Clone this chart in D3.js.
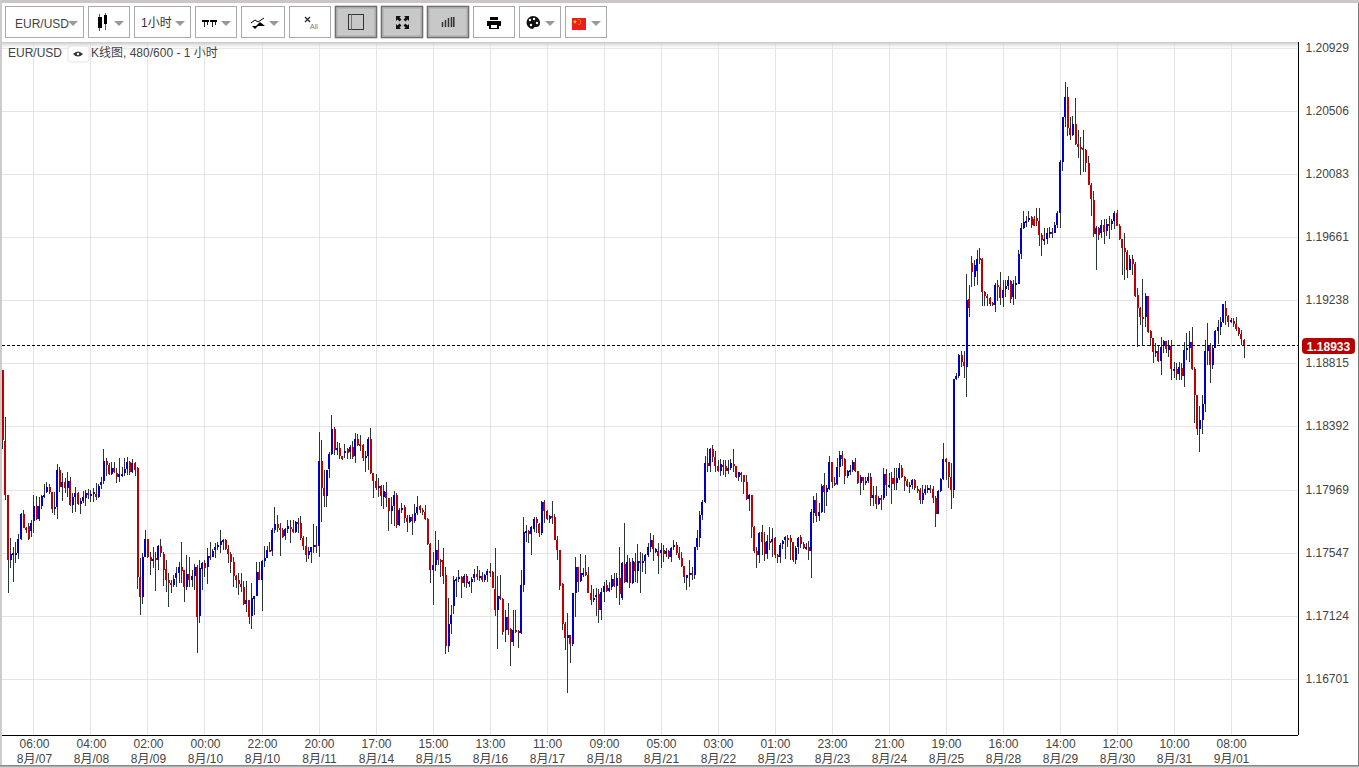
<!DOCTYPE html>
<html><head><meta charset="utf-8">
<script src="https://cdn.jsdelivr.net/npm/d3@7"></script>
<style>
html,body{margin:0;padding:0;background:#fff;overflow:hidden}
svg{display:block}
text{font-family:"Liberation Sans",Arial,"Noto Sans CJK SC",sans-serif;font-size:12px;fill:#444}
</style></head><body>
<svg id="c" width="1359" height="768"></svg>
<script>
const opens=[1.18771,1.18295,1.17933,1.17497,1.17537,1.17542,1.17546,1.17638,1.17805,1.17714,1.17725,1.17691,1.17761,1.17859,1.17770,1.17859,1.17917,1.17953,1.17986,1.17953,
1.17841,1.17852,1.18100,1.17984,1.18020,1.17980,1.18027,1.17866,1.17919,1.17948,1.17872,1.17890,1.17917,1.17948,1.17928,1.17937,1.17940,1.17919,1.18000,1.18027,
1.18161,1.18132,1.18074,1.18116,1.18078,1.18054,1.18067,1.18078,1.18107,1.18154,1.18087,1.18147,1.18114,1.17383,1.17249,1.17519,1.17638,1.17519,1.17490,1.17510,
1.17495,1.17591,1.17537,1.17434,1.17363,1.17341,1.17329,1.17374,1.17412,1.17450,1.17430,1.17318,1.17403,1.17363,1.17390,1.17450,1.17117,1.17437,1.17477,1.17450,
1.17524,1.17517,1.17564,1.17580,1.17598,1.17624,1.17631,1.17569,1.17537,1.17484,1.17390,1.17363,1.17336,1.17314,1.17202,1.17229,1.17117,1.17236,1.17256,1.17416,
1.17363,1.17490,1.17510,1.17564,1.17557,1.17698,1.17738,1.17712,1.17698,1.17658,1.17705,1.17718,1.17705,1.17685,1.17752,1.17745,1.17645,1.17591,1.17531,1.17551,
1.17584,1.17598,1.17591,1.18161,1.17980,1.17926,1.18107,1.18208,1.18375,1.18235,1.18248,
1.18195,1.18217,1.18241,1.18221,1.18255,1.18195,1.18308,1.18273,1.18268,1.18181,1.18195,1.18308,1.18081,1.18027,1.17980,1.17993,1.17920,1.17953,1.17913,1.17826,
1.17859,1.17933,1.17732,1.17832,1.17853,1.17779,1.17752,1.17785,1.17759,1.17812,1.17859,1.17832,1.17819,1.17772,1.17605,1.17430,1.17464,1.17564,1.17497,1.17497,
1.17397,1.16921,1.17068,1.17189,1.17363,1.17370,1.17383,1.17343,1.17390,1.17336,1.17350,1.17377,1.17403,1.17383,1.17390,1.17363,1.17397,1.17423,1.17417,1.17303,
1.17162,1.17256,1.17236,1.17028,1.17115,1.17035,1.16947,1.17028,1.17021,1.17008,1.17330,1.17678,1.17692,1.17672,1.17705,1.17772,1.17739,1.17678,1.17886,1.17826,
1.17772,1.17792,1.17785,1.17631,1.17564,1.17336,1.17068,1.16974,1.16994,1.16934,1.17276,1.17450,1.17356,1.17397,1.17417,1.17397,1.17276,1.17229,1.17249,1.17269,
1.17162,1.17283,1.17330,1.17289,1.17316,1.17370,1.17323,1.17377,1.17242,1.17470,1.17350,1.17484,1.17343,1.17484,1.17423,1.17491,1.17477,1.17491,1.17531,1.17584,
1.17631,1.17551,1.17558,1.17544,1.17564,1.17537,1.17558,1.17517,1.17584,1.17598,1.17544,
1.17511,1.17458,1.17377,1.17397,1.17411,1.17397,1.17585,1.17645,1.17800,1.17887,1.18148,1.18128,1.18242,1.18188,1.18128,1.18095,1.18135,1.18128,1.18095,1.18115,
1.18142,1.18128,1.18054,1.18081,1.18068,1.18021,1.17907,1.17934,1.17719,1.17558,1.17531,1.17686,1.17619,1.17538,1.17625,1.17619,1.17645,1.17531,1.17518,1.17605,
1.17632,1.17645,1.17645,1.17619,1.17498,1.17585,1.17652,1.17605,1.17578,1.17585,1.17558,1.17813,1.17900,1.17793,1.17820,1.18001,1.17954,1.17974,1.18155,1.18014,
1.18007,1.18121,1.18202,1.18175,1.18061,1.18088,1.18101,1.18155,1.18095,1.18014,1.18054,1.18014,1.18028,1.18054,1.17914,1.17934,1.17873,1.17914,1.17914,1.18075,
1.17987,1.18048,1.18048,1.18014,1.18048,1.18115,1.18054,1.18028,1.17987,1.18001,1.18034,1.17974,1.17967,1.17900,1.17947,1.17974,1.17981,1.17974,1.17914,1.17806,
1.17961,1.18041,1.18175,1.18155,1.18054,1.17967,1.18711,1.18732,1.18872,1.18825,
1.18794,1.19248,1.19489,1.19395,1.19435,1.19523,1.19516,1.19295,1.19268,1.19254,1.19221,1.19207,1.19341,1.19328,1.19254,1.19315,1.19335,1.19370,1.19261,1.19341,
1.19348,1.19549,1.19724,1.19757,1.19777,1.19797,1.19784,1.19791,1.19771,1.19677,1.19643,1.19650,1.19690,1.19697,1.19690,1.19744,1.19824,1.20166,1.20468,1.20602,
1.20394,1.20347,1.20421,1.20287,1.20267,1.20258,1.20247,1.20159,1.20012,1.19911,1.19683,1.19724,1.19690,1.19744,1.19703,1.19750,1.19750,1.19771,1.19824,1.19737,
1.19650,1.19590,1.19563,1.19442,1.19516,1.19482,1.19274,1.19187,1.19127,1.19127,1.19268,1.19033,1.18986,1.18888,1.18899,1.18832,1.18939,1.18966,1.18906,1.18932,
1.18767,1.18778,1.18745,1.18785,1.18731,1.18906,1.18919,1.18959,1.18778,1.18604,1.18376,1.18436,1.18544,1.18899,1.18932,1.18805,1.18919,1.19033,1.19060,1.19093,
1.19187,1.19134,1.19093,1.19100,1.19080,1.19053,1.19013,1.18973];
const highs=[1.18771,1.18458,1.17933,1.17647,1.17586,1.17620,1.17671,1.17814,1.17832,1.17721,1.17743,1.17765,1.17933,1.17926,1.17922,1.17933,1.18007,1.18020,1.18007,1.17953,
1.17955,1.18141,1.18118,1.18078,1.18045,1.18087,1.18056,1.17944,1.17989,1.17955,1.17910,1.17962,1.17966,1.17971,1.17966,1.17978,1.18016,1.18007,1.18056,1.18241,
1.18179,1.18150,1.18156,1.18156,1.18112,1.18181,1.18118,1.18179,1.18185,1.18163,1.18172,1.18156,1.18123,1.17508,1.17546,1.17698,1.17638,1.17553,1.17586,1.17553,
1.17598,1.17636,1.17553,1.17497,1.17412,1.17363,1.17396,1.17452,1.17486,1.17620,1.17430,1.17531,1.17519,1.17430,1.17470,1.17463,1.17497,1.17486,1.17497,1.17575,
1.17620,1.17569,1.17613,1.17620,1.17698,1.17638,1.17638,1.17598,1.17553,1.17519,1.17396,1.17408,1.17408,1.17356,1.17358,1.17229,1.17341,1.17256,1.17486,1.17486,
1.17497,1.17591,1.17591,1.17620,1.17709,1.17855,1.17799,1.17743,1.17709,1.17709,1.17765,1.17765,1.17765,1.17761,1.17776,1.17794,1.17658,1.17653,1.17586,1.17586,
1.17738,1.17725,1.18355,1.18302,1.18100,1.18100,1.18219,1.18469,1.18391,1.18290,1.18279,
1.18195,1.18275,1.18246,1.18268,1.18297,1.18351,1.18342,1.18335,1.18275,1.18228,1.18324,1.18384,1.18081,1.18074,1.18045,1.18000,1.18000,1.18020,1.17913,1.17922,
1.17962,1.17949,1.17844,1.17877,1.17866,1.17799,1.17799,1.17806,1.17873,1.17926,1.17866,1.17844,1.17866,1.17777,1.17609,1.17553,1.17694,1.17631,1.17502,1.17575,
1.17453,1.17240,1.17195,1.17390,1.17385,1.17430,1.17390,1.17403,1.17403,1.17359,1.17385,1.17435,1.17457,1.17430,1.17419,1.17403,1.17435,1.17475,1.17426,1.17575,
1.17390,1.17397,1.17240,1.17162,1.17207,1.17039,1.17162,1.17162,1.17028,1.17430,1.17788,1.17732,1.17698,1.17725,1.17788,1.17788,1.17743,1.17895,1.17900,1.17832,
1.17799,1.17895,1.17806,1.17658,1.17564,1.17341,1.17084,1.17140,1.16994,1.17278,1.17520,1.17452,1.17537,1.17441,1.17528,1.17452,1.17330,1.17300,1.17307,1.17300,
1.17307,1.17352,1.17363,1.17352,1.17397,1.17408,1.17408,1.17587,1.17486,1.17743,1.17531,1.17508,1.17508,1.17542,1.17604,1.17553,1.17546,1.17537,1.17609,1.17676,
1.17665,1.17575,1.17609,1.17609,1.17598,1.17575,1.17564,1.17587,1.17631,1.17620,1.17587,
1.17554,1.17458,1.17397,1.17498,1.17453,1.17587,1.17699,1.17826,1.17900,1.18197,1.18247,1.18247,1.18269,1.18231,1.18168,1.18173,1.18168,1.18168,1.18168,1.18173,
1.18240,1.18128,1.18090,1.18090,1.18068,1.18068,1.17940,1.17934,1.17726,1.17587,1.17688,1.17730,1.17688,1.17665,1.17721,1.17710,1.17650,1.17538,1.17610,1.17632,
1.17659,1.17665,1.17665,1.17619,1.17592,1.17650,1.17665,1.17621,1.17610,1.17627,1.17838,1.17929,1.17945,1.17878,1.18007,1.18079,1.18001,1.18195,1.18157,1.18057,
1.18180,1.18231,1.18231,1.18180,1.18101,1.18135,1.18168,1.18180,1.18095,1.18068,1.18057,1.18057,1.18079,1.18079,1.17990,1.17990,1.17927,1.17934,1.18113,1.18106,
1.18079,1.18090,1.18113,1.18113,1.18150,1.18135,1.18061,1.18039,1.18023,1.18039,1.18039,1.17990,1.17978,1.18001,1.18001,1.18001,1.18001,1.17990,1.17923,1.17967,
1.18045,1.18280,1.18180,1.18157,1.18146,1.18711,1.18749,1.18879,1.18895,1.18895,
1.19415,1.19341,1.19536,1.19509,1.19576,1.19592,1.19520,1.19301,1.19281,1.19259,1.19230,1.19353,1.19375,1.19429,1.19375,1.19375,1.19402,1.19375,1.19375,1.19402,
1.19576,1.19755,1.19835,1.19800,1.19840,1.19800,1.19804,1.19858,1.19858,1.19688,1.19724,1.19724,1.19728,1.19724,1.19766,1.19840,1.20180,1.20470,1.20703,1.20667,
1.20470,1.20475,1.20593,1.20381,1.20336,1.20381,1.20251,1.20206,1.20023,1.19972,1.19733,1.19728,1.19777,1.19782,1.19782,1.19800,1.19782,1.19840,1.19844,1.19750,
1.19650,1.19688,1.19576,1.19543,1.19543,1.19498,1.19319,1.19192,1.19379,1.19286,1.19268,1.19040,1.18988,1.18950,1.18939,1.18995,1.18973,1.18968,1.18973,1.18973,
1.18827,1.18816,1.18827,1.18816,1.18961,1.19022,1.19029,1.19062,1.18794,1.18604,1.18530,1.18604,1.18973,1.19084,1.18950,1.18939,1.19040,1.19107,1.19125,1.19214,
1.19234,1.19140,1.19118,1.19118,1.19125,1.19062,1.19040,1.18977];
const lows=[1.18243,1.17899,1.17273,1.17446,1.17352,1.17479,1.17506,1.17631,1.17709,1.17676,1.17631,1.17653,1.17680,1.17765,1.17756,1.17839,1.17910,1.17944,1.17940,1.17810,
1.17799,1.17774,1.17955,1.17895,1.17944,1.17922,1.17859,1.17810,1.17821,1.17866,1.17805,1.17877,1.17859,1.17906,1.17888,1.17884,1.17899,1.17913,1.17971,1.18007,
1.18060,1.18067,1.18067,1.18078,1.18016,1.18022,1.18051,1.18060,1.18067,1.18067,1.18078,1.18060,1.17305,1.17128,1.17204,1.17519,1.17508,1.17396,1.17441,1.17291,
1.17430,1.17519,1.17323,1.17285,1.17180,1.17278,1.17318,1.17318,1.17341,1.17345,1.17218,1.17296,1.17318,1.17318,1.17296,1.16876,1.17072,1.17296,1.17385,1.17336,
1.17497,1.17515,1.17508,1.17564,1.17542,1.17564,1.17564,1.17479,1.17408,1.17318,1.17307,1.17262,1.17285,1.17195,1.17151,1.17068,1.17032,1.17128,1.17256,1.17363,
1.17157,1.17452,1.17508,1.17551,1.17524,1.17676,1.17687,1.17524,1.17642,1.17631,1.17676,1.17609,1.17676,1.17676,1.17676,1.17631,1.17564,1.17486,1.17501,1.17479,
1.17542,1.17542,1.17519,1.17754,1.17855,1.17855,1.18045,1.18201,1.18201,1.18201,1.18172,
1.18168,1.18179,1.18172,1.18172,1.18172,1.18150,1.18262,1.18230,1.18161,1.18089,1.18101,1.18074,1.17915,1.17967,1.17922,1.17859,1.17837,1.17855,1.17694,1.17739,
1.17725,1.17712,1.17725,1.17810,1.17743,1.17687,1.17743,1.17665,1.17743,1.17799,1.17810,1.17799,1.17765,1.17598,1.17345,1.17195,1.17426,1.17464,1.17385,1.17336,
1.16867,1.16883,1.17001,1.17135,1.17251,1.17352,1.17240,1.17318,1.17307,1.17318,1.17278,1.17352,1.17363,1.17359,1.17352,1.17352,1.17352,1.17385,1.17307,1.17122,
1.16900,1.17229,1.16994,1.16950,1.16994,1.16789,1.16921,1.17005,1.16905,1.17001,1.17285,1.17620,1.17613,1.17531,1.17687,1.17676,1.17649,1.17665,1.17743,1.17765,
1.17743,1.17739,1.17631,1.17497,1.17296,1.17028,1.16894,1.16608,1.16804,1.16921,1.17117,1.17285,1.17352,1.17385,1.17390,1.17274,1.17195,1.17218,1.17122,1.17077,
1.17095,1.17218,1.17285,1.17285,1.17296,1.17318,1.17240,1.17195,1.17229,1.17345,1.17341,1.17307,1.17336,1.17352,1.17345,1.17278,1.17419,1.17401,1.17520,1.17553,
1.17491,1.17542,1.17403,1.17441,1.17486,1.17520,1.17502,1.17486,1.17564,1.17531,1.17497,
1.17449,1.17346,1.17297,1.17319,1.17364,1.17368,1.17565,1.17583,1.17766,1.17882,1.18090,1.18090,1.18157,1.18090,1.18090,1.18063,1.18068,1.18057,1.18075,1.18101,
1.18090,1.18045,1.18030,1.18023,1.17940,1.17900,1.17826,1.17643,1.17543,1.17446,1.17476,1.17531,1.17493,1.17502,1.17565,1.17520,1.17513,1.17476,1.17480,1.17569,
1.17502,1.17587,1.17498,1.17487,1.17471,1.17538,1.17576,1.17569,1.17565,1.17498,1.17379,1.17748,1.17753,1.17762,1.17815,1.17811,1.17860,1.17967,1.17978,1.17990,
1.18001,1.18057,1.18128,1.18007,1.18045,1.18068,1.18090,1.18090,1.18007,1.17934,1.17967,1.18001,1.18012,1.17862,1.17862,1.17838,1.17867,1.17833,1.17900,1.17929,
1.17978,1.17873,1.17967,1.17967,1.18034,1.18045,1.17963,1.17985,1.17949,1.17972,1.17967,1.17945,1.17873,1.17873,1.17934,1.17945,1.17945,1.17882,1.17721,1.17806,
1.17956,1.18034,1.18034,1.17983,1.17840,1.17916,1.18705,1.18716,1.18790,1.18720,
1.18593,1.19129,1.19330,1.19335,1.19341,1.19482,1.19201,1.19201,1.19201,1.19203,1.19201,1.19163,1.19236,1.19207,1.19192,1.19263,1.19308,1.19223,1.19207,1.19245,
1.19348,1.19518,1.19719,1.19728,1.19766,1.19726,1.19733,1.19733,1.19603,1.19536,1.19610,1.19616,1.19654,1.19654,1.19688,1.19721,1.19726,1.20108,1.20403,1.20340,
1.20314,1.20340,1.20278,1.20193,1.20079,1.20097,1.20097,1.20012,1.19806,1.19665,1.19442,1.19643,1.19654,1.19614,1.19666,1.19650,1.19710,1.19715,1.19733,1.19643,
1.19406,1.19375,1.19386,1.19442,1.19409,1.19263,1.18928,1.19073,1.18939,1.19062,1.19017,1.18932,1.18816,1.18861,1.18827,1.18738,1.18883,1.18883,1.18861,1.18705,
1.18716,1.18705,1.18705,1.18705,1.18660,1.18839,1.18827,1.18772,1.18418,1.18333,1.18224,1.18342,1.18488,1.18805,1.18682,1.18778,1.18917,1.18946,1.19006,1.19084,
1.19073,1.19062,1.19084,1.19062,1.19035,1.18996,1.18939,1.18854];
const closes=[1.18302,1.17933,1.17497,1.17537,1.17542,1.17546,1.17638,1.17805,1.17714,1.17698,1.17638,1.17743,1.17859,1.17770,1.17859,1.17926,1.17931,1.17986,1.17953,1.17841,
1.17852,1.18100,1.17984,1.18020,1.17980,1.18027,1.17866,1.17919,1.17944,1.17872,1.17890,1.17917,1.17948,1.17933,1.17937,1.17953,1.17919,1.17993,1.18020,1.18161,
1.18132,1.18074,1.18116,1.18087,1.18054,1.18074,1.18076,1.18107,1.18154,1.18087,1.18147,1.18100,1.17383,1.17249,1.17519,1.17638,1.17519,1.17490,1.17504,1.17497,
1.17591,1.17542,1.17430,1.17363,1.17345,1.17329,1.17370,1.17408,1.17450,1.17425,1.17316,1.17403,1.17363,1.17390,1.17450,1.17117,1.17441,1.17477,1.17443,1.17524,
1.17513,1.17560,1.17586,1.17595,1.17624,1.17631,1.17569,1.17537,1.17484,1.17390,1.17363,1.17336,1.17314,1.17202,1.17229,1.17117,1.17240,1.17256,1.17416,1.17363,
1.17490,1.17508,1.17562,1.17551,1.17698,1.17738,1.17712,1.17698,1.17651,1.17705,1.17725,1.17705,1.17685,1.17752,1.17738,1.17645,1.17591,1.17531,1.17557,1.17584,
1.17598,1.17584,1.18161,1.17980,1.17926,1.18100,1.18208,1.18375,1.18235,1.18248,1.18194,
1.18172,1.18228,1.18212,1.18255,1.18188,1.18308,1.18268,1.18264,1.18181,1.18195,1.18308,1.18081,1.18027,1.17980,1.17993,1.17926,1.17960,1.17913,1.17826,1.17859,
1.17933,1.17732,1.17832,1.17846,1.17779,1.17752,1.17785,1.17759,1.17812,1.17853,1.17832,1.17819,1.17772,1.17605,1.17430,1.17464,1.17564,1.17497,1.17484,1.17390,
1.16921,1.17068,1.17128,1.17363,1.17370,1.17383,1.17343,1.17390,1.17343,1.17350,1.17370,1.17403,1.17383,1.17390,1.17363,1.17397,1.17423,1.17417,1.17310,1.17162,
1.17256,1.17236,1.17014,1.17115,1.17028,1.16947,1.17028,1.17014,1.17008,1.17330,1.17685,1.17692,1.17672,1.17718,1.17772,1.17743,1.17678,1.17886,1.17826,1.17772,
1.17792,1.17779,1.17631,1.17564,1.17323,1.17068,1.16974,1.16994,1.16934,1.17276,1.17450,1.17350,1.17410,1.17410,1.17397,1.17276,1.17229,1.17242,1.17263,1.17162,
1.17283,1.17323,1.17289,1.17309,1.17370,1.17323,1.17377,1.17269,1.17477,1.17350,1.17484,1.17343,1.17491,1.17423,1.17491,1.17477,1.17491,1.17531,1.17584,1.17631,
1.17571,1.17571,1.17524,1.17564,1.17537,1.17558,1.17517,1.17578,1.17598,1.17544,1.17511,
1.17458,1.17384,1.17397,1.17411,1.17397,1.17585,1.17645,1.17800,1.17887,1.18148,1.18128,1.18242,1.18188,1.18128,1.18095,1.18142,1.18121,1.18095,1.18115,1.18148,
1.18128,1.18054,1.18088,1.18068,1.18021,1.17907,1.17934,1.17719,1.17558,1.17531,1.17679,1.17619,1.17538,1.17625,1.17612,1.17639,1.17531,1.17518,1.17598,1.17625,
1.17652,1.17632,1.17619,1.17498,1.17578,1.17645,1.17605,1.17578,1.17585,1.17558,1.17820,1.17900,1.17793,1.17820,1.17994,1.17954,1.17981,1.18155,1.18021,1.18001,
1.18121,1.18202,1.18175,1.18061,1.18095,1.18101,1.18155,1.18095,1.18014,1.18054,1.18028,1.18028,1.18054,1.17914,1.17934,1.17873,1.17914,1.17907,1.18075,1.18001,
1.18001,1.18007,1.18007,1.18048,1.18115,1.18054,1.18028,1.17994,1.18001,1.18034,1.17981,1.17961,1.17900,1.17947,1.17974,1.17981,1.17967,1.17914,1.17806,1.17961,
1.18041,1.18175,1.18155,1.18054,1.17967,1.18711,1.18732,1.18872,1.18825,1.18799,
1.19241,1.19187,1.19429,1.19476,1.19516,1.19509,1.19295,1.19268,1.19254,1.19214,1.19207,1.19341,1.19328,1.19254,1.19308,1.19335,1.19375,1.19248,1.19348,1.19355,
1.19549,1.19724,1.19764,1.19771,1.19791,1.19744,1.19737,1.19771,1.19677,1.19643,1.19650,1.19690,1.19697,1.19683,1.19744,1.19824,1.20166,1.20468,1.20602,1.20394,
1.20347,1.20421,1.20287,1.20267,1.20253,1.20247,1.20159,1.20012,1.19918,1.19683,1.19724,1.19677,1.19744,1.19697,1.19750,1.19737,1.19771,1.19824,1.19737,1.19650,
1.19590,1.19563,1.19442,1.19516,1.19482,1.19268,1.19187,1.19127,1.19113,1.19268,1.19026,1.18986,1.18894,1.18899,1.18832,1.18926,1.18966,1.18912,1.18932,1.18778,
1.18778,1.18745,1.18792,1.18731,1.18906,1.18919,1.18959,1.18778,1.18604,1.18376,1.18436,1.18544,1.18899,1.18932,1.18805,1.18919,1.19033,1.19060,1.19093,1.19214,
1.19134,1.19093,1.19107,1.19080,1.19046,1.19013,1.18979,1.18933];
const priceTicks=[1.20929,1.20506,1.20083,1.19661,1.19238,1.18815,1.18392,1.17969,1.17547,1.17124,1.16701];
const timeLabels=["06:00","04:00","02:00","00:00","22:00","20:00","17:00","15:00","13:00","11:00","09:00","05:00","03:00","01:00","23:00","21:00","19:00","16:00","14:00","12:00","10:00","08:00"];
const dateLabels=["8月/07","8月/08","8月/09","8月/10","8月/10","8月/11","8月/14","8月/15","8月/16","8月/17","8月/18","8月/21","8月/22","8月/23","8月/23","8月/24","8月/25","8月/28","8月/29","8月/30","8月/31","9月/01"];
const lastPrice=1.18933;
const firstTickIndex=12, barsPerTick=22;
const toolButtons=[[5,84],[88,130],[134,191],[195,237],[241,285],[289,331],[335,377],[381,423],[427,469],[473,515],[519,561],[565,607]];

const svg=d3.select("#c");
const defs=svg.append("defs");
const g1=defs.append("linearGradient").attr("id","sh").attr("x1",0).attr("x2",0).attr("y1",0).attr("y2",1);
g1.append("stop").attr("offset",0).attr("stop-color","#c4c4c4");
g1.append("stop").attr("offset",1).attr("stop-color","#fff").attr("stop-opacity",0);
const g2=defs.append("linearGradient").attr("id","sb").attr("x1",0).attr("x2",0).attr("y1",0).attr("y2",1);
g2.append("stop").attr("offset",0).attr("stop-color","#777");
g2.append("stop").attr("offset",1).attr("stop-color","#e4e0e0");

const x=d3.scaleLinear().domain([0,479]).range([2.9,1244]);
const y=d3.scaleLinear().domain([1.16701,1.20929]).range([678.8,48.04]);
const gridY=v=>Math.floor(y(v)+0.45)+0.5;
const gridX=i=>Math.floor(x(i))+0.5;
const tickIdx=timeLabels.map((_,k)=>firstTickIndex+k*barsPerTick);

// grid
const grid=svg.append("g").attr("stroke","#e4e4e4").attr("stroke-width",1);
grid.selectAll(".v").data(tickIdx).join("line").attr("x1",gridX).attr("x2",gridX).attr("y1",42).attr("y2",735);
grid.selectAll(".h").data(priceTicks).join("line").attr("x1",2).attr("x2",1298).attr("y1",gridY).attr("y2",gridY);

// candles
const idx=d3.range(opens.length);
const candles=svg.append("g").attr("shape-rendering","crispEdges");
candles.selectAll(".w").data(idx).join("line").attr("stroke","#2b3535").attr("stroke-width",1)
  .attr("x1",i=>Math.round(x(i)-.5)+.5).attr("x2",i=>Math.round(x(i)-.5)+.5)
  .attr("y1",i=>Math.round(y(highs[i]))).attr("y2",i=>Math.round(y(lows[i])));
candles.selectAll(".b").data(idx).join("rect")
  .attr("x",i=>Math.round(x(i)-1)).attr("width",2)
  .attr("y",i=>Math.round(y(Math.max(opens[i],closes[i]))))
  .attr("height",i=>Math.max(2,Math.round(Math.abs(y(opens[i])-y(closes[i])))))
  .attr("fill",i=>closes[i]>opens[i]?"#0000c8":"#c00000");

// last price line
svg.append("line").attr("x1",2).attr("x2",1298).attr("y1",Math.round(y(lastPrice))-.5).attr("y2",Math.round(y(lastPrice))-.5)
  .attr("stroke","#000").attr("stroke-dasharray","3,2");

// axes
const yAxis=d3.axisRight(y).tickValues(priceTicks).tickFormat(d3.format(".5f")).tickSize(0).tickPadding(7);
const ya=svg.append("g").attr("transform","translate(1298.5,0)").call(yAxis);
ya.select(".domain").attr("stroke","#000").attr("d","M0,42V735");
ya.selectAll("text").style("font-family",'"Liberation Sans",Arial,sans-serif').style("font-size","12px").attr("fill","#444");
ya.selectAll(".tick").attr("transform",d=>`translate(0,${gridY(d)-0.5})`);
ya.selectAll(".tick line").remove();

const xAxis=d3.axisBottom(x).tickValues(tickIdx).tickFormat((d,k)=>timeLabels[k]).tickSize(0).tickPadding(4);
const xa=svg.append("g").attr("transform","translate(0,735.5)").call(xAxis);
xa.select(".domain").attr("stroke","#000").attr("d","M2,0H1298");
xa.selectAll("text").style("font-family",'"Liberation Sans",Arial,"Noto Sans CJK SC",sans-serif').style("font-size","12px").attr("fill","#444");
xa.selectAll(".tick").append("text").attr("y",19).attr("dy",".71em").attr("text-anchor","middle")
  .style("font-family",'"Liberation Sans",Arial,"Noto Sans CJK SC",sans-serif').style("font-size","12px").attr("fill","#444")
  .text((d,k)=>dateLabels[k]);

// price tag
svg.append("rect").attr("x",1302).attr("y",338).attr("width",53).attr("height",16).attr("rx",4).attr("fill","#b80000");
svg.append("text").attr("x",1328.5).attr("y",350.5).attr("text-anchor","middle").style("fill","#fff").style("font-size","12px").style("font-weight","bold").text(d3.format(".5f")(lastPrice));

// frame
svg.append("rect").attr("x",0).attr("y",0).attr("width",1359).attr("height",3).attr("fill","#cbc5c5");
svg.append("rect").attr("x",0).attr("y",0).attr("width",2).attr("height",768).attr("fill","#d0cbcb");
svg.append("rect").attr("x",1358).attr("y",3).attr("width",1).attr("height",762).attr("fill","#777");
svg.append("rect").attr("x",0).attr("y",765).attr("width",1359).attr("height",3).attr("fill","url(#sb)");

// toolbar
svg.append("rect").attr("x",2).attr("y",42).attr("width",1296).attr("height",8).attr("fill","url(#sh)");
svg.append("rect").attr("x",2).attr("y",3).attr("width",1356).attr("height",39).attr("fill","#fff");
ya.raise();
const pressed=new Set([6,7,8]);
svg.append("g").selectAll("rect").data(toolButtons).join("rect")
  .attr("x",d=>d[0]+.5).attr("y",6.5).attr("width",d=>d[1]-d[0]-1).attr("height",31)
  .attr("fill",(d,i)=>pressed.has(i)?"#c8c8c8":"#fff").attr("stroke",(d,i)=>pressed.has(i)?"#707070":"#aaa")
  .attr("stroke-width",(d,i)=>pressed.has(i)?1.6:1);
svg.append("g").selectAll("rect").data(toolButtons.filter((d,i)=>pressed.has(i))).join("rect")
  .attr("x",d=>d[0]+2).attr("y",8).attr("width",d=>d[1]-d[0]-4).attr("height",28)
  .attr("fill","none").attr("stroke","#a8a8a8");
const caret=cx=>svg.append("path").attr("d",`M${cx-5},21h10l-5,5z`).attr("fill","#999");
[73,119,180,226,274,550,596].forEach(caret);
svg.append("text").attr("x",15).attr("y",28).style("fill","#444").text("EUR/USD");
svg.append("text").attr("x",141).attr("y",27).style("fill","#333").text("1小时");
// chart-type icon
svg.append("path").attr("d","M99.5,14v17M105.5,13v17").attr("stroke","#555");
svg.append("rect").attr("x",98).attr("y",17).attr("width",4).attr("height",11).attr("fill","#000");
svg.append("rect").attr("x",104).attr("y",15).attr("width",3).attr("height",9).attr("fill","#000");
// indicators icon
svg.append("path").attr("d","M202,21h7M210,21h7").attr("stroke","#000").attr("stroke-width",2);
svg.append("path").attr("d","M204.5,22v5M207.5,22v3M212.5,22v5M215.5,22v3").attr("stroke","#222");
// draw icon
svg.append("path").attr("d","M251,23l4,-3l3,2l6,-4").attr("stroke","#000").attr("fill","none");
svg.append("path").attr("d","M256,26l4,-4l5,4zM252,26h6l-3,3z").attr("fill","#000");
// clear icon
svg.append("path").attr("d","M305,17l5,5M310,17l-5,5").attr("stroke","#222").attr("stroke-width",1.2);
svg.append("text").attr("x",310).attr("y",29).style("font-size","7px").style("fill","#777").text("All");
// layout icon
svg.append("rect").attr("x",348.5).attr("y",14.5).attr("width",15).attr("height",15).attr("fill","none").attr("stroke","#333");
svg.append("path").attr("d","M351.5,14.5v15").attr("stroke","#777");
// fullscreen icon
svg.append("path").attr("d","M396,16h5l-1.5,1.5l2,2l-2,2l-2,-2l-1.5,1.5zM409,16h-5l1.5,1.5l-2,2l2,2l2,-2l1.5,1.5zM396,29h5l-1.5,-1.5l2,-2l-2,-2l-2,2l-1.5,-1.5zM409,29h-5l1.5,-1.5l-2,-2l2,-2l2,2l1.5,-1.5z").attr("fill","#111");
// bars icon
svg.append("path").attr("d","M442.5,22v5M445.5,20v7M448.5,18v9M451.5,17v10M453.8,17v10").attr("stroke","#333").attr("stroke-width",1.5);
// print icon
svg.append("path").attr("d","M490,17h8v3h-8zM487,21h14v5h-2v3h-10v-3h-2z").attr("fill","#000");
svg.append("rect").attr("x",491).attr("y",25).attr("width",6).attr("height",3).attr("fill","#fff");
// palette icon
svg.append("path").attr("d","M533,16a6.5,6.5 0 1,0 0,13c1,-2 2,-2 3,-2a4,4 0 0,0 4,-4c0,-4 -3,-7 -7,-7z").attr("fill","#111");
svg.selectAll(".pal").data([[530,20],[534,19],[537,23],[531,25]]).join("circle").attr("cx",d=>d[0]).attr("cy",d=>d[1]).attr("r",1.2).attr("fill","#fff");
// flag
svg.append("rect").attr("x",572).attr("y",18).attr("width",14).attr("height",12).attr("fill","#ee1c1c");
svg.append("path").attr("d","M575,19.5l.6,1.6h1.6l-1.3,1 .5,1.6-1.4-1-1.4,1 .5-1.6-1.3-1h1.6z").attr("fill","#ffd800");
svg.selectAll(".fs").data([[579,19.5],[580.5,21],[580.5,23],[579,24.5]]).join("circle").attr("cx",d=>d[0]).attr("cy",d=>d[1]).attr("r",.6).attr("fill","#ffd800");

// legend
svg.append("text").attr("x",8).attr("y",57).text("EUR/USD");
svg.append("rect").attr("x",68).attr("y",46).attr("width",21).attr("height",16).attr("rx",3).attr("fill","#fff").attr("stroke","#e4e4e4");
svg.append("path").attr("d","M73,54q5,-5 10,0q-5,5 -10,0z").attr("fill","#333");
svg.append("circle").attr("cx",78).attr("cy",54).attr("r",1.2).attr("fill","#fff");
svg.append("text").attr("x",91).attr("y",57).text("K线图, 480/600 - 1 小时");
</script>
</body></html>
